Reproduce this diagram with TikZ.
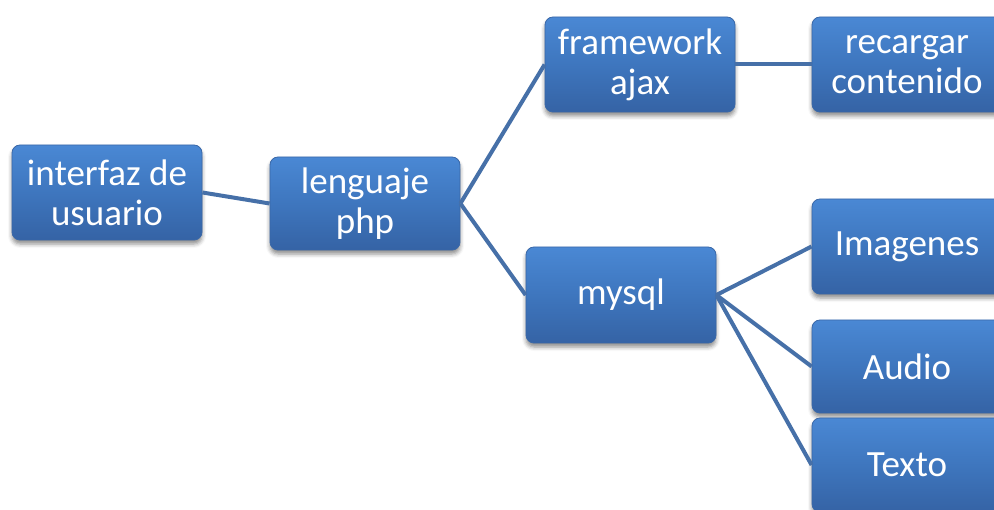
\documentclass[tikz,border=0pt]{standalone}
\usepackage{fontspec}
\setmainfont{Carlito}
\usetikzlibrary{shadows.blur}
\definecolor{boxtop}{HTML}{4A88D4}
\definecolor{boxmid}{HTML}{3E76BE}
\definecolor{boxbot}{HTML}{3563A5}
\definecolor{boxline}{HTML}{3A68A8}
\definecolor{conn}{HTML}{4670A8}
\tikzset{
  box/.style={rectangle, rounded corners=8pt, draw=boxline, line width=0.8pt,
    top color=boxtop, bottom color=boxbot, middle color=boxmid,
    minimum width=190pt, text=white, align=center, inner sep=0pt,
    font=\fontsize{37}{40}\selectfont,
    blur shadow={shadow xshift=0pt, shadow yshift=-4pt, shadow blur radius=4pt, shadow opacity=45}},
  link/.style={draw=conn, line width=4pt}
}
\begin{document}
\begin{tikzpicture}[x=1pt,y=-1pt]
\useasboundingbox (0,0) rectangle (994,510);
\node[box, minimum height=95pt] (iu) at (107,192.5) {interfaz de\\usuario};
\node[box, minimum height=93pt] (php) at (365,203.5) {lenguaje\\php};
\node[box, minimum height=95pt] (fw) at (640,64.5) {framework\\ajax};
\node[box, minimum height=95pt] (rc) at (907,64.5) {recargar\\contenido};
\node[box, minimum height=96pt] (my) at (621,295) {mysql};
\node[box, minimum height=95pt] (img) at (907,246.5) {Imagenes};
\node[box, minimum height=93pt] (aud) at (907,366.5) {Audio};
\node[box, minimum height=94pt] (tex) at (907,465) {Texto};
\draw[link] (iu.east) -- (php.west);
\draw[link] (php.east) -- (fw.west);
\draw[link] (php.east) -- (my.west);
\draw[link] (fw.east) -- (rc.west);
\draw[link] (my.east) -- (img.west);
\draw[link] (my.east) -- (aud.west);
\draw[link] (my.east) -- (tex.west);
\end{tikzpicture}
\end{document}
